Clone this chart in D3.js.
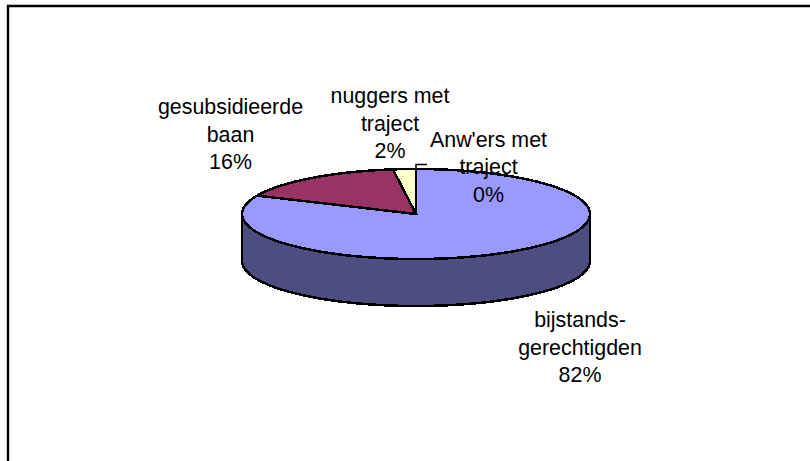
<!DOCTYPE html>
<html>
<head>
<meta charset="utf-8">
<script src="https://cdn.jsdelivr.net/npm/d3@7"></script>
<style>
html, body { margin: 0; padding: 0; background: #fff; }
svg { display: block; }
text { font-family: "Liberation Sans", Arial, sans-serif; font-size: 21.4px; fill: #000; }
</style>
</head>
<body>
<div id="chart"></div>
<script>
// Data
const categories = ['bijstands-\ngerechtigden', 'gesubsidieerde\nbaan', 'nuggers met\ntraject', "Anw'ers met\ntraject"]
const values = [81.7, 16.2, 2.1, 0.02]
const percentLabels = ['82%', '16%', '2%', '0%']
const colors = ['#9999ff', '#993366', '#ffffcc', '#ccffff']

const WIDTH = 810
const HEIGHT = 461
const CX = 416
const CY = 214
const RX = 174
const RY = 45
const DEPTH = 47

// label center, first line baseline
const LABEL_POS = [[580, 327], [230.5, 114], [390, 103], [488.5, 146.5]]

const svg = d3.select('#chart')
    .append('svg')
    .attr('width', WIDTH)
    .attr('height', HEIGHT)

// Frame runs off the page on the right and at the bottom
svg.append('path')
    .attr('d', 'M8,461V6H810')
    .attr('fill', 'none')
    .attr('stroke', '#000')
    .attr('stroke-width', 2.4)

const pie = d3.pie().sort(null)(values)

// Tilted disc: angle 0 is at the top, going clockwise
const px = a => CX + RX * Math.sin(a)
const py = a => CY - RY * Math.cos(a)
const line = d3.line()

function sweep(a0, a1, dy) {
    const n = Math.max(2, Math.ceil((a1 - a0) * 60))
    return d3.range(n + 1).map(i => {
        const a = a0 + (a1 - a0) * i / n
        return [px(a), py(a) + dy]
    })
}

// Side wall, only the front half of the disc shows
const front = sweep(Math.PI / 2, Math.PI * 3 / 2, 0)
const wall = front.concat(sweep(Math.PI / 2, Math.PI * 3 / 2, DEPTH).reverse())
svg.append('path')
    .attr('d', line(wall) + 'Z')
    .attr('fill', '#4d4d80')
    .attr('stroke', '#000')
    .attr('stroke-width', 2.5)
    .attr('shape-rendering', 'crispEdges')

// Top slices
svg.selectAll('path.slice')
    .data(pie)
    .enter()
    .append('path')
    .attr('class', 'slice')
    .attr('d', d => line([[CX, CY]].concat(sweep(d.startAngle, d.endAngle, 0))) + 'Z')
    .attr('fill', (d, i) => colors[i])
    .attr('stroke', '#000')
    .attr('stroke-width', 2.5)
    .attr('stroke-linejoin', 'miter')
    .attr('shape-rendering', 'crispEdges')

// Leader line of the 0% slice
svg.append('path')
    .attr('d', 'M416,168V164.5H427')
    .attr('fill', 'none')
    .attr('stroke', '#000')
    .attr('stroke-width', 1.5)

// Labels
const labels = svg.selectAll('text.label')
    .data(categories)
    .enter()
    .append('text')
    .attr('class', 'label')
    .attr('text-anchor', 'middle')
    .attr('transform', (d, i) => `translate(${LABEL_POS[i][0]}, ${LABEL_POS[i][1]})`)

labels.selectAll('tspan')
    .data((d, i) => d.split('\n').concat(percentLabels[i]))
    .enter()
    .append('tspan')
    .attr('x', 0)
    .attr('y', (d, i) => i * 27.7)
    .text(d => d)
</script>
</body>
</html>
